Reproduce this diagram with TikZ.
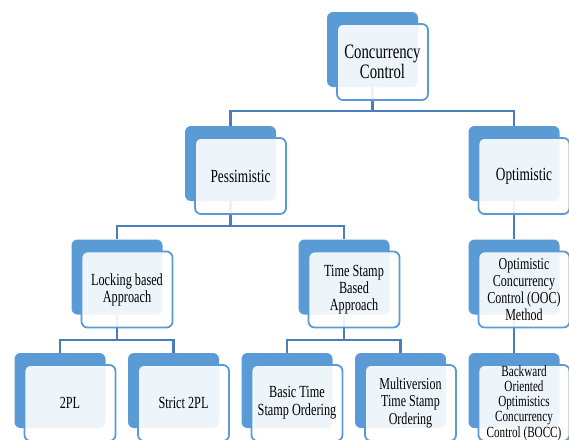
\documentclass[tikz,border=0pt]{standalone}
\usepackage{fontspec}
\setmainfont{Liberation Serif}[FakeStretch=0.72]
\definecolor{boxblue}{HTML}{5B9BD5}
\definecolor{linkblue}{HTML}{4A7EBB}

\begin{document}
\begin{tikzpicture}[x=1pt, y=-1pt,
    backbox/.style={rectangle, rounded corners=6pt, fill=boxblue, minimum width=91pt, minimum height=75pt, inner sep=0pt},
    frontbox/.style={rectangle, rounded corners=6pt, draw=boxblue, line width=1.8pt, fill=white, fill opacity=0.9, text opacity=1, minimum width=91pt, minimum height=76pt, inner sep=0pt, align=center},
    link/.style={draw=linkblue, line width=2.3pt},
    bigtext/.style={font=\fontsize{20.5}{18}\selectfont},
    midtext/.style={font=\fontsize{18.5}{18}\selectfont},
    smalltext/.style={font=\fontsize{17}{17}\selectfont},
    tinytext/.style={font=\fontsize{15.5}{15.2}\selectfont}
    ]
    \clip (0,0) rectangle (569,439);

    % blue boxes behind
    \node [backbox] (ccb) at (372.5, 49.5) {};

    \node [backbox] (pesb) at (230.5, 163.5) {};
    \node [backbox] (optb) at (514, 163.5) {};

    \node [backbox] (lockb) at (117, 277) {};
    \node [backbox] (tsb) at (344, 277) {};
    \node [backbox] (oocb) at (514, 277) {};

    \node [backbox] (tplb) at (60, 390.5) {};
    \node [backbox] (stplb) at (173.5, 390.5) {};
    \node [backbox] (btsb) at (287, 390.5) {};
    \node [backbox] (mtsb) at (400.5, 390.5) {};
    \node [backbox] (boccb) at (514, 390.5) {};

    \draw [link] (ccb.south) -- ++(0,24) -| (pesb.north);
    \draw [link] (ccb.south) -- ++(0,24) -| (optb.north);

    \draw [link] (pesb.south) -- ++(0,25) -| (lockb.north);
    \draw [link] (pesb.south) -- ++(0,25) -| (tsb.north);
    \draw [link] (optb.south) -- (oocb.north);

    \draw [link] (lockb.south) -- ++(0,25.5) -| (tplb.north);
    \draw [link] (lockb.south) -- ++(0,25.5) -| (stplb.north);
    \draw [link] (tsb.south) -- ++(0,25.5) -| (btsb.north);
    \draw [link] (tsb.south) -- ++(0,25.5) -| (mtsb.north);
    \draw [link] (oocb.south) -- (boccb.north);

    % light boxes in front
    \node [frontbox, bigtext] (cc) at ([shift={(10,12.5)}]ccb.center) {Concurrency\\Control};

    \node [frontbox, midtext] (pes) at ([shift={(10,12.5)}]pesb.center) {Pessimistic};
    \node [frontbox, midtext] (opt) at ([shift={(10,12.5)}]optb.center) {Optimistic};

    \node [frontbox, smalltext] (lock) at ([shift={(10,12.5)}]lockb.center) {Locking based\\Approach};
    \node [frontbox, smalltext] (ts) at ([shift={(10,12.5)}]tsb.center) {Time Stamp\\Based\\Approach};
    \node [frontbox, font=\fontsize{16.7}{16.8}\selectfont] (ooc) at ([shift={(10,12.5)}]oocb.center) {Optimistic\\Concurrency\\Control (OOC)\\Method};

    \node [frontbox, smalltext] (tpl) at ([shift={(10,12.5)}]tplb.center) {2PL};
    \node [frontbox, smalltext] (stpl) at ([shift={(10,12.5)}]stplb.center) {Strict 2PL};
    \node [frontbox, font=\fontsize{17}{17.7}\selectfont] (bts) at ([shift={(10,12.5)}]btsb.center) {Basic Time\\Stamp Ordering};
    \node [frontbox, font=\fontsize{16.7}{17.7}\selectfont] (mts) at ([shift={(10,12.5)}]mtsb.center) {Multiversion\\Time Stamp\\Ordering};
    \node [frontbox, tinytext] (bocc) at ([shift={(10,12.5)}]boccb.center) {Backward\\Oriented\\Optimistics\\Concurrency\\Control (BOCC)};

  \end{tikzpicture}
\end{document}
